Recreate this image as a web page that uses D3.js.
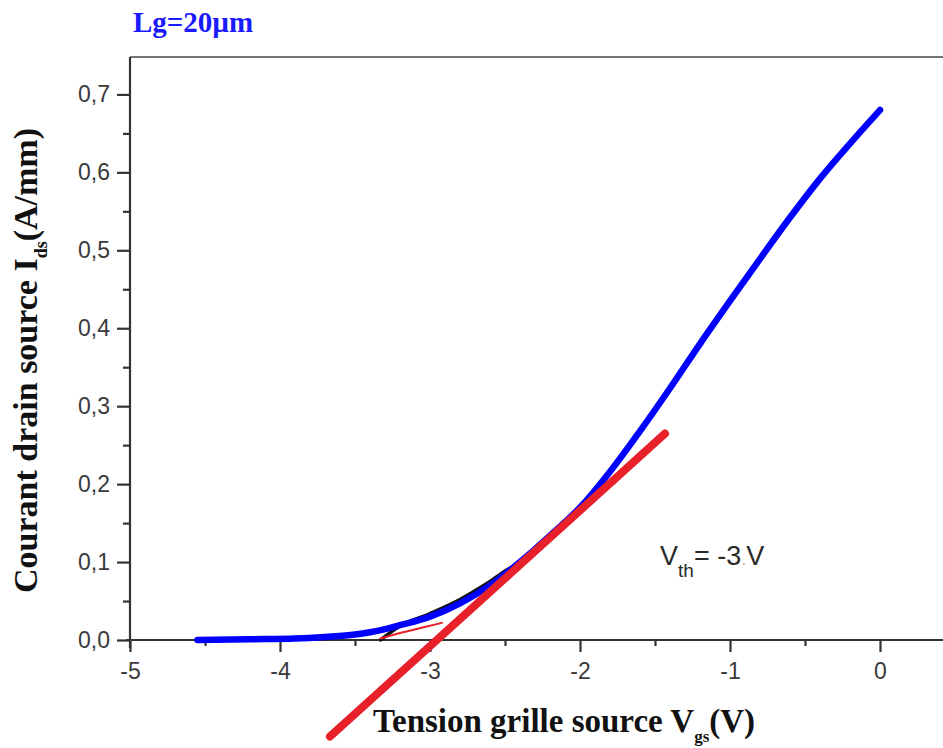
<!DOCTYPE html>
<html>
<head>
<meta charset="utf-8">
<script src="https://cdn.jsdelivr.net/npm/d3@7/dist/d3.min.js"></script>
<style>
  html, body { margin: 0; padding: 0; background: #fff; }
  svg { display: block; }
</style>
</head>
<body>
<svg id="chart" width="943" height="748"></svg>
<script>
// Transfer characteristic Ids(Vgs), Lg = 20 µm
const vgs = [-4.55, -4.2, -3.9, -3.7, -3.5, -3.4, -3.3, -3.2, -3.0, -2.8, -2.6, -2.4, -2.2, -2.0, -1.8, -1.6, -1.4, -1.2, -1.0, -0.8, -0.6, -0.4, -0.2, 0.0];
const ids = [0.0, 0.001, 0.002, 0.004, 0.007, 0.010, 0.014, 0.019, 0.030, 0.047, 0.070, 0.100, 0.134, 0.170, 0.216, 0.268, 0.323, 0.380, 0.435, 0.489, 0.542, 0.592, 0.637, 0.680];

// Fitted curve in the sub-threshold knee (black)
const fitV = [-3.33, -3.2, -3.0, -2.8, -2.6, -2.45, -2.37];
const fitI = [0.0, 0.018, 0.034, 0.052, 0.075, 0.094, 0.099];

// Short red trace near the knee
const knV = [-3.33, -3.2, -3.05, -2.92];
const knI = [0.002, 0.009, 0.016, 0.022];

// Linear extrapolation giving the threshold voltage
const tanV = [-3.667, -1.433];
const tanSlope = 0.174;
const vth = -2.955;

const xMajor = [-5, -4, -3, -2, -1, 0];
const xMinor = [-4.5, -3.5, -2.5, -1.5, -0.5];
const yMajor = [0, 0.1, 0.2, 0.3, 0.4, 0.5, 0.6, 0.7];
const yMinor = [0.05, 0.15, 0.25, 0.35, 0.45, 0.55, 0.65];

const svg = d3.select("#chart");
const x = d3.scaleLinear().domain([-5, 0.5]).range([130, 955]);
const y = d3.scaleLinear().domain([0, 0.748]).range([640, 57]);

const fmt = d => d3.format(".1f")(d).replace(".", ",");
const tickFont = "'Liberation Sans', Arial, sans-serif";
const serif = "'Liberation Serif', 'Times New Roman', serif";

// Frame: top border
svg.append("line")
  .attr("x1", x(-5)).attr("x2", 943)
  .attr("y1", y(0.748)).attr("y2", y(0.748))
  .attr("stroke", "#444").attr("stroke-width", 1.5);

// Y axis
const yAxis = svg.append("g").attr("transform", `translate(${x(-5)},0)`)
  .call(d3.axisLeft(y).tickValues(yMajor).tickFormat(fmt).tickSize(13).tickPadding(7));
yAxis.select(".domain").attr("d", `M0,${y(0.748)}V${y(0) + 8}`);
svg.append("g").attr("transform", `translate(${x(-5)},0)`)
  .call(d3.axisLeft(y).tickValues(yMinor).tickFormat("").tickSize(7))
  .select(".domain").remove();

// X axis
const xAxis = svg.append("g").attr("transform", `translate(0,${y(0)})`)
  .call(d3.axisBottom(x).tickValues(xMajor).tickFormat(d => String(d)).tickSize(12).tickPadding(11));
xAxis.select(".domain").attr("d", `M${x(-5) - 4},0H943`);
svg.append("g").attr("transform", `translate(0,${y(0)})`)
  .call(d3.axisBottom(x).tickValues(xMinor).tickFormat("").tickSize(6))
  .select(".domain").remove();

svg.selectAll(".tick line, .domain").attr("stroke", "#333").attr("stroke-width", 2.2);
svg.selectAll(".tick text")
  .attr("font-family", tickFont).attr("font-size", 23).attr("fill", "#3a3a3a");

const line = d3.line().x(d => x(d[0])).y(d => y(d[1])).curve(d3.curveMonotoneX);

// Black fit, under the blue curve so only its upper edge shows
svg.append("path")
  .datum(d3.zip(fitV, fitI))
  .attr("d", line)
  .attr("fill", "none").attr("stroke", "#111").attr("stroke-width", 3.5)
  .attr("stroke-linecap", "round");

// Main measured curve (blue)
svg.append("path")
  .datum(d3.zip(vgs, ids))
  .attr("d", line)
  .attr("fill", "none").attr("stroke", "#0000ff").attr("stroke-width", 6.5)
  .attr("stroke-linecap", "round").attr("stroke-linejoin", "round");

svg.append("path")
  .datum(d3.zip(knV, knI))
  .attr("d", line)
  .attr("fill", "none").attr("stroke", "#e8202a").attr("stroke-width", 2)
  .attr("stroke-linecap", "round");

// Tangent line
svg.append("line")
  .attr("x1", x(tanV[0])).attr("y1", y(tanSlope * (tanV[0] - vth)))
  .attr("x2", x(tanV[1])).attr("y2", y(tanSlope * (tanV[1] - vth)))
  .attr("stroke", "#e8202a").attr("stroke-width", 8).attr("stroke-linecap", "round");

// Title
svg.append("text")
  .attr("x", 133).attr("y", 32)
  .attr("font-family", serif).attr("font-weight", "bold").attr("font-size", 29)
  .attr("fill", "#1a1aff")
  .text("Lg=20µm");

// Threshold annotation
const ann = svg.append("text")
  .attr("x", 660).attr("y", 565)
  .attr("font-family", tickFont).attr("font-size", 27).attr("fill", "#2a2a2a");
ann.append("tspan").text("V");
ann.append("tspan").attr("dy", 12).attr("font-size", 19).text("th");
ann.append("tspan").attr("dy", -12).text("= -3");
ann.append("tspan").attr("fill", "#bbb").attr("font-size", 18).text(".");
ann.append("tspan").text("V");

// X axis title
const xt = svg.append("text")
  .attr("x", 373).attr("y", 732)
  .attr("font-family", serif).attr("font-weight", "bold").attr("font-size", 33).attr("fill", "#111");
xt.append("tspan").text("Tension grille source V");
xt.append("tspan").attr("dy", 10).attr("font-size", 17).text("gs");
xt.append("tspan").attr("dy", -10).text("(V)");

// Y axis title
const yt = svg.append("text")
  .attr("transform", "translate(37,593) rotate(-90)")
  .attr("font-family", serif).attr("font-weight", "bold").attr("font-size", 34).attr("fill", "#111");
yt.append("tspan").text("Courant drain source I");
yt.append("tspan").attr("dy", 10).attr("font-size", 18).text("ds");
yt.append("tspan").attr("dy", -10).text("(A/mm)");
</script>
</body>
</html>
